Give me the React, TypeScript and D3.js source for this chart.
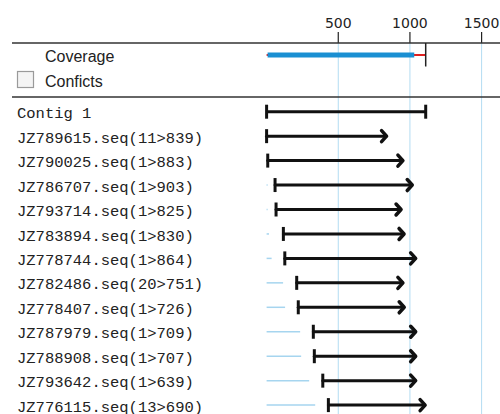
import * as d3 from "d3";

// contig / coverage (positions in bases)
const contigStart = 0;
const contigEnd = 1110;
const coverageEnd = 1030;
const axisTicks = [500, 1000, 1500];

// reads
const readNames = [
  "JZ789615.seq(11>839)",
  "JZ790025.seq(1>883)",
  "JZ786707.seq(1>903)",
  "JZ793714.seq(1>825)",
  "JZ783894.seq(1>830)",
  "JZ778744.seq(1>864)",
  "JZ782486.seq(20>751)",
  "JZ778407.seq(1>726)",
  "JZ787979.seq(1>709)",
  "JZ788908.seq(1>707)",
  "JZ793642.seq(1>639)",
  "JZ776115.seq(13>690)",
];
const readStarts = [0, 8, 59, 66, 117, 127, 210, 221, 326, 333, 392, 431];
const readEnds = [844, 958, 1023, 945, 966, 1047, 958, 967, 1047, 1047, 1047, 1113];
// unaligned leading part (light blue)
const leadEnds = [0, 0, 7, 7, 17, 35, 115, 129, 234, 241, 297, 339];

const W = 500;
const H = 414;

export default function App() {
  const x = d3.scaleLinear().domain([0, 1500]).range([266.6, 481.6]);
  const rowY = (i: number) => 111.7 + 24.45 * i;
  const lineTop = 43;
  const lineBottom = 97;
  const covY = 55;

  const rows = ["Contig 1", ...readNames];

  return (
    <svg
      width={W}
      height={H}
      viewBox={`0 0 ${W} ${H}`}
      style={{ position: "absolute", left: 0, top: 0, background: "#fff" }}
    >
      {/* grid lines */}
      {axisTicks.map((t) => (
        <line
          key={"g" + t}
          x1={x(t)}
          x2={x(t)}
          y1={lineTop}
          y2={H}
          stroke="#b3dcf2"
          strokeWidth={1}
        />
      ))}
      {/* axis ticks and labels */}
      {axisTicks.map((t) => (
        <g key={"t" + t}>
          <line x1={x(t)} x2={x(t)} y1={32} y2={lineTop} stroke="#222" strokeWidth={1.2} />
          <text
            x={x(t)}
            y={28}
            textAnchor="middle"
            fontFamily="DejaVu Sans"
            fontSize={14}
            fill="#222"
          >
            {t}
          </text>
        </g>
      ))}
      <line x1={12} x2={W} y1={lineTop} y2={lineTop} stroke="#333" strokeWidth={1.5} />
      <line x1={12} x2={W} y1={lineBottom} y2={lineBottom} stroke="#333" strokeWidth={1.5} />

      {/* legend area */}
      <text x={45} y={61.5} fontFamily="Liberation Sans" fontSize={16} fill="#222">
        Coverage
      </text>
      <rect x={17.5} y={71.5} width={16} height={16} fill="#f4f4f4" stroke="#9a9a9a" strokeWidth={1.2} />
      <text x={45} y={86.5} fontFamily="Liberation Sans" fontSize={16} fill="#222">
        Conficts
      </text>

      {/* coverage */}
      <line x1={x(contigStart)} x2={x(contigEnd)} y1={covY} y2={covY} stroke="#e02020" strokeWidth={2} />
      <line
        x1={x(contigStart) + 1}
        x2={x(coverageEnd)}
        y1={covY}
        y2={covY}
        stroke="#1a8fd2"
        strokeWidth={5}
      />
      <line x1={x(contigEnd)} x2={x(contigEnd)} y1={lineTop} y2={66.5} stroke="#222" strokeWidth={1.5} />

      {/* contig row */}
      <g stroke="#111" strokeWidth={3} fill="none">
        <line x1={x(contigStart)} x2={x(contigEnd)} y1={rowY(0)} y2={rowY(0)} />
        <line x1={x(contigStart)} x2={x(contigStart)} y1={rowY(0) - 7} y2={rowY(0) + 7} />
        <line x1={x(contigEnd)} x2={x(contigEnd)} y1={rowY(0) - 7} y2={rowY(0) + 7} />
      </g>

      {/* reads */}
      {readNames.map((name, i) => {
        const y = rowY(i + 1);
        const s = x(readStarts[i]);
        const e = x(readEnds[i]);
        return (
          <g key={name}>
            {leadEnds[i] > 0 && (
              <line x1={x(0)} x2={x(leadEnds[i])} y1={y} y2={y} stroke="#a6d5ef" strokeWidth={1.5} />
            )}
            <g stroke="#111" fill="none" strokeLinecap="round" strokeLinejoin="round">
              <line x1={s} x2={e - 1.5} y1={y} y2={y} strokeWidth={3} />
              <line x1={s} x2={s} y1={y - 7} y2={y + 7} strokeWidth={3} strokeLinecap="butt" />
              <path d={`M${e - 6},${y - 5.5} L${e - 1},${y} L${e - 6},${y + 5.5}`} strokeWidth={3.5} />
            </g>
          </g>
        );
      })}

      {/* row labels */}
      {rows.map((r, i) => (
        <text
          key={r}
          x={17}
          y={rowY(i) + 6.6}
          fontFamily="Liberation Mono"
          fontSize={15.5}
          fill="#222"
        >
          {r}
        </text>
      ))}
    </svg>
  );
}
